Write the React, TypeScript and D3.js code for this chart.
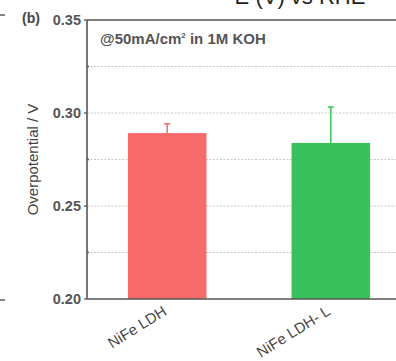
import React from "react";
import * as d3 from "d3";

// data
const categories = ["NiFe LDH", "NiFe LDH- L"];
const values = [0.2892, 0.2839];
const errors = [0.0050, 0.0193];
const barColors = ["#f96b6b", "#38c15b"];
const yTicks = [0.2, 0.25, 0.3, 0.35];
const yGrid = [0.225, 0.25, 0.275, 0.3, 0.325];

const width = 396;
const height = 361;
const margin = { top: 20, left: 87, bottom: 299, right: 411 };

export default function App() {
    const x = d3.scaleBand<string>()
        .domain(categories)
        .range([margin.left, margin.right])
        .paddingInner(0.52)
        .paddingOuter(0.25);

    const y = d3.scaleLinear()
        .domain([0.2, 0.35])
        .range([margin.bottom, margin.top]);

    const font = "'Liberation Sans', Arial, sans-serif";

    return (
        <svg width={width} height={height}
            style={{ position: "absolute", left: 0, top: 0, background: "#fff" }}
            fontFamily={font}>
            {/* clipped heading from the figure above */}
            <text x={300} y={4} fontSize={22} textAnchor="middle" fill="#222">E (V) vs RHE</text>
            <line x1={0} x2={5} y1={15} y2={15} stroke="#333" strokeWidth={1.2} />
            <line x1={0} x2={5} y1={300} y2={300} stroke="#333" strokeWidth={1.2} />

            {/* dotted grid */}
            {yGrid.map(v => (
                <line key={"g" + v} x1={margin.left} x2={width} y1={y(v)} y2={y(v)}
                    stroke="#c8c8c8" strokeWidth={1} strokeDasharray="2,1.5" />
            ))}

            {/* bars */}
            {categories.map((c, i) => {
                const bx = x(c)!;
                const cx = bx + x.bandwidth() / 2;
                return (
                    <g key={c}>
                        <rect x={bx} y={y(values[i])} width={x.bandwidth()}
                            height={y(0.2) - y(values[i])} fill={barColors[i]} />
                        <line x1={cx} x2={cx} y1={y(values[i])} y2={y(values[i] + errors[i])}
                            stroke={barColors[i]} strokeWidth={1.5} />
                        <line x1={cx - 3} x2={cx + 3} y1={y(values[i] + errors[i])} y2={y(values[i] + errors[i])}
                            stroke={barColors[i]} strokeWidth={1.5} />
                    </g>
                );
            })}

            {/* frame */}
            <line x1={margin.left} x2={width} y1={margin.top} y2={margin.top} stroke="#555" strokeWidth={1.6} />
            <line x1={margin.left} x2={width} y1={margin.bottom} y2={margin.bottom} stroke="#555" strokeWidth={1.6} />
            <line x1={margin.left} x2={margin.left} y1={margin.top} y2={margin.bottom} stroke="#555" strokeWidth={1.6} />

            {/* y ticks */}
            {yTicks.map(v => (
                <g key={"t" + v}>
                    <line x1={margin.left - 3} x2={margin.left} y1={y(v)} y2={y(v)} stroke="#555" strokeWidth={1.3} />
                    <text x={81} y={y(v)} dy="0.35em" textAnchor="end" fontSize={14.5}
                        fontWeight="bold" fill="#555">{d3.format(".2f")(v)}</text>
                </g>
            ))}
            {yGrid.filter(v => !yTicks.includes(v)).map(v => (
                <line key={"m" + v} x1={margin.left} x2={margin.left + 2} y1={y(v)} y2={y(v)} stroke="#555" strokeWidth={1.3} />
            ))}

            <text transform={`translate(38,${(y(0.2) + y(0.35)) / 2}) rotate(-90)`} textAnchor="middle"
                fontSize={15} fill="#444">Overpotential / V</text>
            <text x={22} y={23} fontSize={14} fontWeight="bold" fill="#444">(b)</text>
            <text x={100} y={44} fontSize={15} fontWeight="bold" fill="#555">
                @50mA/cm<tspan dy={-6} fontSize={8}>2</tspan><tspan dy={6}> in 1M KOH</tspan>
            </text>

            {/* x labels */}
            {categories.map(c => {
                const cx = x(c)! + x.bandwidth() / 2;
                return (
                    <text key={"l" + c} transform={`translate(${cx - 5},${margin.bottom + 6}) rotate(-32)`}
                        textAnchor="end" dy="0.7em" fontSize={15} fill="#444">{c}</text>
                );
            })}
        </svg>
    );
}
